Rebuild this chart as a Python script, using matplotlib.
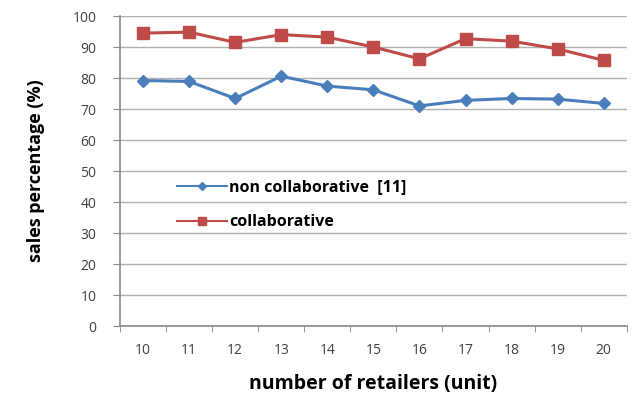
import matplotlib.pyplot as plt
from matplotlib.lines import Line2D
import numpy as np

retailers = [10, 11, 12, 13, 14, 15, 16, 17, 18, 19, 20]
non_collab = [79.2, 78.9, 73.4, 80.6, 77.4, 76.2, 71.0, 72.8, 73.4, 73.2, 71.8]
collab = [94.5, 94.8, 91.5, 94.0, 93.2, 90.0, 86.2, 92.7, 91.9, 89.4, 85.7]

blue = '#4a7ebb'
red = '#be4b48'

plt.rcParams['font.family'] = ['Open Sans', 'DejaVu Sans']

fig = plt.figure(figsize=(6.35, 4.01), dpi=100)
ax = fig.add_axes([0.189, 0.187, 0.798, 0.773])

ax.plot(retailers, non_collab, color=blue, marker='D', markersize=6, lw=2.2)
ax.plot(retailers, collab, color=red, marker='s', markersize=9, lw=2.2)

ax.set_ylim(0, 100)
ax.set_yticks(range(0, 101, 10))
ax.set_xlim(9.5, 20.5)
ax.set_xticks(retailers)
ax.set_xticks(np.arange(9.5, 21, 1), minor=True)
ax.tick_params(axis='x', which='major', length=0, pad=12, labelsize=10, colors='#404040')
ax.tick_params(axis='x', which='minor', length=4, color='#888888', direction='out')
ax.tick_params(axis='y', length=5, color='#888888', pad=12, labelsize=10, labelcolor='#404040')
ax.grid(axis='y', color='#b0b0b0', lw=1)
ax.set_axisbelow(True)
for s in ['top', 'right']:
    ax.spines[s].set_visible(False)
ax.spines['left'].set_color('#888888')
ax.spines['bottom'].set_color('#888888')
ax.spines['left'].set_linewidth(1.2)
ax.spines['bottom'].set_linewidth(1.2)

ax.set_xlabel('number of retailers (unit)', fontsize=14, fontweight='bold', labelpad=12)
ax.set_ylabel('sales percentage (%)', fontsize=13, fontweight='bold', labelpad=20)

handles = [Line2D([], [], color=blue, marker='D', markersize=4, lw=1.5),
           Line2D([], [], color=red, marker='s', markersize=6, lw=1.5)]
ax.legend(handles, ['non collaborative  [11]', 'collaborative'],
          loc='upper left', bbox_to_anchor=(0.085, 0.52), frameon=False,
          prop={'weight': 'bold', 'size': 11.5}, handlelength=3.1, handletextpad=0.15,
          labelspacing=1.2)

plt.savefig('out.png', dpi=100)
